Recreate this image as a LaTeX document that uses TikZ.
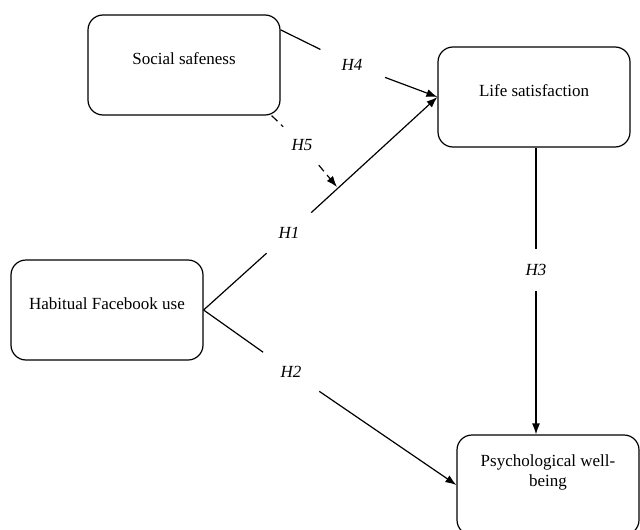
\documentclass[tikz,border=0pt]{standalone}
\usepackage{fontspec}
\setmainfont{Liberation Serif}
\usetikzlibrary{arrows.meta}
\begin{document}
\begin{tikzpicture}[x=1pt,y=-1pt,
		box/.style={draw,line width=1.2pt,rounded corners=15pt,minimum width=192pt,minimum height=100pt,
			inner sep=0pt,align=center,font=\fontsize{17}{20}\selectfont,text height=12pt,text depth=14pt},
		hyp/.style={circle,inner sep=0pt,font=\fontsize{17}{20}\selectfont\itshape},
		path/.style={line width=1.2pt},
		tip/.style={-{Latex[length=11pt,width=8pt]}}]
			\useasboundingbox (0,0) rectangle (640,530);
			\node [box] (ss) at (184,65) {Social safeness};
			\node [box] (ls) at (534,97) {Life satisfaction};
			\node [box] (hf) at (107,310) {Habitual Facebook use};
			\node [box,minimum width=182pt,text depth=10pt] (pw) at (548,485) {Psychological well-\\being};
			\node [hyp,minimum size=70pt] (h4) at (352,65) {H4};
			\node [hyp,minimum size=52pt] (h5) at (302,145) {H5};
			\node [hyp,minimum size=60pt] (h1) at (289,233) {H1};
			\node [hyp,minimum size=68pt] (h2) at (291,372) {H2};
			\node [hyp,minimum size=42pt] (h3) at (536,270) {H3};
			\coordinate (m) at (337,187);
			\draw [path] (ss.20) -- (h4);
			\draw [path,tip] (h4) -- (ls.west);
			\draw [path,dash pattern=on 8pt off 5pt] (ss.-30) -- (h5);
			\draw [path,dash pattern=on 8pt off 5pt,tip] (h5) -- (m);
			\draw [path] (hf.east) -- (h1);
			\draw [path,tip] (h1) -- (ls.west);
			\draw [path] (hf.east) -- (h2);
			\draw [path,tip] (h2) -- (pw.west);
			\draw [path] (h3 |- ls.south) -- (h3);
			\draw [path,tip] (h3) -- (h3 |- pw.north);
		\end{tikzpicture}
\end{document}
